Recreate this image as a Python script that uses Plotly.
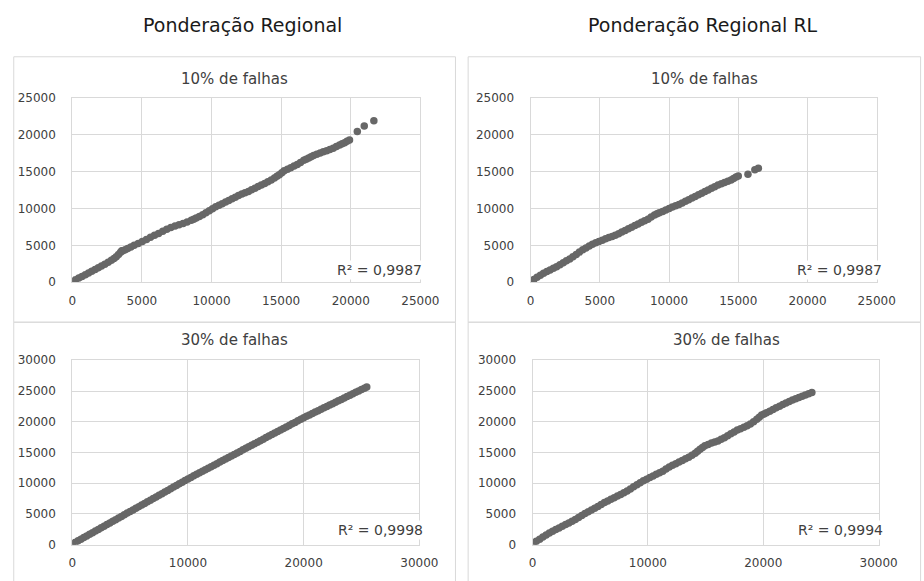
import plotly.graph_objects as go

W, H = 924, 581

# ---------------- data ----------------
column_titles = ["Ponderação Regional", "Ponderação Regional RL"]
panel_titles = ["10% de falhas", "10% de falhas", "30% de falhas", "30% de falhas"]
r2_labels = ["R² = 0,9987", "R² = 0,9987", "R² = 0,9998", "R² = 0,9994"]

# Ponderação Regional, 10% de falhas
reg10_x = [0, 230, 470, 700, 940, 1170, 1400, 1640, 1870, 2100, 2340, 2580, 2810, 3000,
           3160, 3320, 3470, 3560, 3630, 3800, 3980, 4210, 4450, 4740, 5030, 5330, 5620,
           5910, 6200, 6500, 6790, 7080, 7380, 7670, 7960, 8250, 8550, 8720, 8900, 9130,
           9370, 9600, 9840, 10070, 10300, 10540, 10770, 11010, 11240, 11480, 11710, 11940,
           12180, 12410, 12650, 12880, 13120, 13350, 13580, 13820, 14050, 14290, 14520,
           14700, 14870, 15050, 15220, 15460, 15690, 15930, 16160, 16390, 16630, 16800,
           16980, 17150, 17330, 17560, 17800, 18030, 18270, 18500, 18740, 18970, 19200,
           19380, 19560, 19730, 19910, 20470, 20970, 21660]
reg10_y = [90, 330, 560, 790, 1000, 1240, 1480, 1720, 1960, 2200, 2430, 2700, 2960, 3200,
           3440, 3750, 4050, 4250, 4260, 4400, 4560, 4780, 5000, 5260, 5520, 5800, 6090,
           6350, 6610, 6900, 7170, 7400, 7610, 7790, 7960, 8160, 8390, 8540, 8700, 8900,
           9130, 9420, 9700, 9960, 10220, 10440, 10650, 10870, 11090, 11300, 11520, 11740,
           11960, 12130, 12310, 12520, 12740, 12960, 13170, 13390, 13610, 13870, 14130,
           14350, 14570, 14830, 15090, 15300, 15520, 15740, 15960, 16240, 16520, 16680,
           16830, 17000, 17170, 17350, 17520, 17670, 17830, 18000, 18170, 18400, 18610,
           18760, 18910, 19090, 19260, 20440, 21170, 21870]

# Ponderação Regional RL, 10% de falhas
rl10_x = [0, 240, 470, 710, 940, 1180, 1410, 1650, 1880, 2120, 2360, 2590, 2830, 3060,
          3300, 3530, 3770, 4000, 4240, 4470, 4710, 4940, 5180, 5420, 5650, 5890, 6120,
          6360, 6590, 6830, 7070, 7300, 7540, 7770, 8010, 8240, 8480, 8710, 8950, 9130,
          9300, 9540, 9770, 10010, 10240, 10480, 10720, 10950, 11190, 11420, 11660, 11890,
          12130, 12360, 12600, 12830, 13070, 13300, 13540, 13780, 14010, 14250, 14480,
          14660, 14840, 15000, 15700, 16200, 16450]
rl10_y = [90, 370, 660, 940, 1230, 1450, 1670, 1890, 2110, 2370, 2630, 2900, 3160, 3460,
          3770, 4080, 4390, 4650, 4910, 5130, 5350, 5530, 5700, 5880, 6050, 6200, 6360,
          6580, 6800, 7020, 7240, 7460, 7680, 7900, 8110, 8330, 8550, 8840, 9120, 9280,
          9430, 9600, 9780, 9980, 10180, 10350, 10530, 10750, 10970, 11190, 11400, 11620,
          11840, 12060, 12280, 12500, 12720, 12940, 13160, 13340, 13510, 13690, 13860,
          14060, 14250, 14380, 14620, 15250, 15450]

# Ponderação Regional, 30% de falhas
reg30_x = [0, 250, 500, 750, 1000, 1250, 1500, 1750, 2000, 2250, 2500, 2750, 3000, 3250,
           3500, 3750, 4000, 4250, 4500, 4750, 5000, 5250, 5500, 5750, 6000, 6250, 6500,
           6750, 7000, 7250, 7500, 7750, 8000, 8250, 8500, 8750, 9000, 9250, 9500, 9750,
           10000, 10250, 10500, 10750, 11000, 11250, 11500, 11750, 12000, 12250, 12500,
           12750, 13000, 13250, 13500, 13750, 14000, 14250, 14500, 14750, 15000, 15250,
           15500, 15750, 16000, 16250, 16500, 16750, 17000, 17250, 17500, 17750, 18000,
           18250, 18500, 18750, 19000, 19250, 19500, 19750, 20000, 20250, 20500, 20750,
           21000, 21250, 21500, 21750, 22000, 22250, 22500, 22750, 23000, 23250, 23500,
           23750, 24000, 24250, 24500, 24750, 25000, 25250, 25450]
reg30_y = [100, 360, 630, 900, 1160, 1430, 1690, 1960, 2220, 2490, 2750, 3020, 3280, 3550,
           3810, 4080, 4340, 4610, 4870, 5140, 5400, 5660, 5930, 6190, 6460, 6720, 6990,
           7250, 7520, 7780, 8050, 8310, 8580, 8840, 9110, 9370, 9640, 9900, 10170, 10430,
           10700, 10950, 11200, 11450, 11690, 11940, 12190, 12440, 12690, 12940, 13190,
           13440, 13690, 13930, 14180, 14430, 14680, 14930, 15180, 15430, 15680, 15920,
           16170, 16420, 16670, 16920, 17170, 17420, 17670, 17910, 18160, 18410, 18660,
           18910, 19160, 19410, 19660, 19900, 20150, 20400, 20650, 20880, 21110, 21340,
           21570, 21800, 22030, 22260, 22480, 22710, 22940, 23170, 23400, 23630, 23860,
           24090, 24320, 24550, 24780, 25000, 25230, 25460, 25640]

# Ponderação Regional RL, 30% de falhas
rl30_x = [50, 330, 620, 900, 1180, 1460, 1740, 2020, 2300, 2580, 2870, 3150, 3430, 3710,
          3990, 4270, 4550, 4830, 5110, 5390, 5670, 5950, 6240, 6520, 6800, 7080, 7360,
          7640, 7920, 8200, 8480, 8760, 9050, 9330, 9610, 9890, 10170, 10450, 10730, 11010,
          11290, 11570, 11850, 12130, 12420, 12700, 12980, 13260, 13540, 13820, 14100,
          14310, 14520, 14730, 14940, 15220, 15510, 15790, 16070, 16350, 16630, 16910,
          17190, 17470, 17750, 18030, 18320, 18600, 18880, 19160, 19440, 19650, 19860,
          20070, 20280, 20560, 20840, 21120, 21410, 21690, 21970, 22250, 22530, 22810,
          23090, 23370, 23650, 23930, 24210]
rl30_y = [150, 550, 900, 1240, 1580, 1900, 2210, 2480, 2740, 3010, 3270, 3530, 3800, 4110,
          4430, 4750, 5060, 5350, 5640, 5930, 6220, 6540, 6860, 7120, 7380, 7650, 7910,
          8170, 8440, 8750, 9070, 9410, 9760, 10070, 10390, 10650, 10920, 11180, 11450,
          11710, 11970, 12310, 12660, 12920, 13190, 13450, 13710, 13980, 14240, 14560,
          14870, 15190, 15510, 15800, 16090, 16320, 16560, 16720, 16880, 17140, 17410,
          17720, 18040, 18350, 18670, 18880, 19090, 19360, 19620, 20010, 20410, 20750,
          21100, 21280, 21470, 21730, 21990, 22260, 22520, 22790, 23050, 23290, 23520,
          23730, 23950, 24160, 24370, 24550, 24740]

x_ranges = [25000, 25000, 30000, 30000]
x_steps = [5000, 5000, 10000, 10000]
y_ranges = [25000, 25000, 30000, 30000]
y_steps = [5000, 5000, 5000, 5000]

# ---------------- layout helpers (pixel -> paper) ----------------
def px(x):
    return x / W


def py(y):
    return 1 - y / H


# plot areas in pixels: (left, right, top, bottom)
areas = [(70, 427, 93, 282), (540, 895, 93, 282),
         (70, 426, 362, 551), (542, 897, 362, 551)]
# chart frames in pixels: (left, right, top, bottom)
frames = [(10, 463, 51, 323), (476, 940, 51, 323),
          (10, 463, 323, 600), (476, 940, 323, 600)]
panel_title_pos = [(236, 74), (718, 74), (236, 341), (741, 341)]
r2_pos = [(431, 270), (902, 270), (432, 536), (903, 536)]
column_title_pos = [(245, 18), (717, 18)]

FONT = "DejaVu Sans"
DOT = "#676767"
GRID = "#d9d9d9"
TICK = "#404040"

series = [(reg10_x, reg10_y), (rl10_x, rl10_y), (reg30_x, reg30_y), (rl30_x, rl30_y)]

fig = go.Figure()
layout = dict(
    width=W, height=H,
    margin=dict(l=0, r=0, t=0, b=0),
    paper_bgcolor="white", plot_bgcolor="white",
    showlegend=False,
    font=dict(family=FONT, color=TICK),
)

for i, (xs, ys) in enumerate(series):
    n = "" if i == 0 else str(i + 1)
    fig.add_trace(go.Scatter(
        x=xs, y=ys, mode="markers",
        marker=dict(size=7.5, color=DOT, line=dict(width=0)),
        xaxis="x" + n, yaxis="y" + n, hoverinfo="x+y",
    ))
    l, r, t, b = areas[i]
    common = dict(
        showgrid=True, gridcolor=GRID, gridwidth=1,
        zeroline=False, showline=True, linecolor=GRID, linewidth=1, mirror=True,
        ticks="", tickformat="d", tickfont=dict(family=FONT, size=12, color=TICK),
        fixedrange=True,
    )
    layout["xaxis" + n] = dict(
        common, domain=[px(l), px(r)], range=[0, x_ranges[i]],
        tick0=0, dtick=x_steps[i], anchor="y" + n, ticklabelstandoff=7,
    )
    layout["yaxis" + n] = dict(
        common, domain=[py(b), py(t)], range=[0, y_ranges[i]],
        tick0=0, dtick=y_steps[i], anchor="x" + n, ticklabelstandoff=13,
    )

shapes = []
for l, r, t, b in frames:
    shapes.append(dict(type="rect", xref="paper", yref="paper",
                       x0=px(l), x1=px(r), y0=py(b), y1=py(t),
                       line=dict(color=GRID, width=1), layer="below"))
layout["shapes"] = shapes

annotations = []
for text, (x, y) in zip(column_titles, column_title_pos):
    annotations.append(dict(text=text, x=px(x), y=py(y), xref="paper", yref="paper",
                            xanchor="center", yanchor="middle", showarrow=False,
                            font=dict(family=FONT, size=19, color="#1a1a1a")))
for text, (x, y) in zip(panel_titles, panel_title_pos):
    annotations.append(dict(text=text, x=px(x), y=py(y), xref="paper", yref="paper",
                            xanchor="center", yanchor="middle", showarrow=False,
                            font=dict(family=FONT, size=15, color="#404040")))
for text, (x, y) in zip(r2_labels, r2_pos):
    annotations.append(dict(text=text, x=px(x), y=py(y), xref="paper", yref="paper",
                            xanchor="right", yanchor="middle", showarrow=False,
                            bgcolor="white", borderpad=1,
                            font=dict(family=FONT, size=14, color="#404040")))
layout["annotations"] = annotations

fig.update_layout(**layout)
fig.write_html("out.html")
